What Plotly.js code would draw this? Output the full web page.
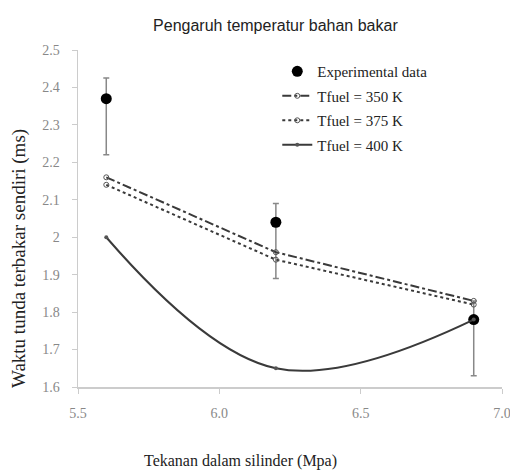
<!DOCTYPE html>
<html><head><meta charset="utf-8">
<script src="https://cdn.plot.ly/plotly-3.0.1.min.js"></script>
<style>body{margin:0;background:#fff}#c{width:510px;height:472px}</style>
</head><body><div id="c"></div>
<script>
var pressure = [5.6, 6.2, 6.9];
var expData = [2.37, 2.04, 1.78];
var expErrPlus = [0.055, 0.05, 0.05];
var expErrMinus = [0.15, 0.15, 0.15];
var t350 = [2.16, 1.96, 1.83];
var t375 = [2.14, 1.94, 1.82];
var t400 = [2.0, 1.65, 1.78];
var xTicks = [5.5, 6.0, 6.5, 7.0];
var yTicks = [1.6, 1.7, 1.8, 1.9, 2, 2.1, 2.2, 2.3, 2.4, 2.5];
var titleText = 'Pengaruh temperatur bahan bakar';
var xTitle = 'Tekanan dalam silinder (Mpa)';
var yTitle = 'Waktu tunda terbakar sendiri (ms)';

var serif = "Liberation Serif, Times New Roman, serif";
var traces = [
  {x: pressure, y: expData, mode: 'markers', name: 'Experimental data', legendgroup: 'a',
   marker: {color: '#000', size: 11},
   error_y: {type: 'data', symmetric: false, array: expErrPlus, arrayminus: expErrMinus,
             color: '#888', thickness: 1.5, width: 3}},
  {x: pressure, y: t350, mode: 'lines+markers', name: 'Tfuel = 350 K', legendgroup: 'b',
   line: {color: '#3a3a3a', width: 2, dash: 'dashdot'},
   marker: {color: '#555', size: 5, symbol: 'circle-open'}},
  {x: pressure, y: t375, mode: 'lines+markers', name: 'Tfuel = 375 K', legendgroup: 'c',
   line: {color: '#3a3a3a', width: 2, dash: 'dot'},
   marker: {color: '#555', size: 5, symbol: 'circle-open'}},
  {x: pressure, y: t400, mode: 'lines+markers', name: 'Tfuel = 400 K', legendgroup: 'd',
   line: {color: '#3a3a3a', width: 2, shape: 'spline', smoothing: 1.1},
   marker: {color: '#555', size: 4, symbol: 'circle'}}
];
var layout = {
  width: 510, height: 472,
  margin: {l: 78, r: 8, t: 50, b: 85},
  paper_bgcolor: '#fff', plot_bgcolor: '#fff',
  title: {text: titleText, x: 0.54, xanchor: 'center', y: 0.958,
          font: {family: 'Liberation Sans, Arial, sans-serif', size: 16, color: '#222'}},
  xaxis: {range: [5.5, 7.0], tickvals: xTicks, ticktext: xTicks.map(function(v){return v.toFixed(1);}),
          showgrid: false, zeroline: false, showline: true, linecolor: '#ccc', linewidth: 1.5,
          ticks: 'outside', ticklen: 5, tickcolor: '#ccc', ticklabelstandoff: 8,
          ticklabeloverflow: 'allow',
          tickfont: {family: serif, size: 14, color: '#888'}},
  yaxis: {range: [1.6, 2.5], tickvals: yTicks, ticktext: yTicks.map(function(v){return String(v);}),
          showgrid: false, zeroline: false, showline: true, linecolor: '#ccc', linewidth: 1.5,
          ticks: 'outside', ticklen: 5, tickcolor: '#ccc', ticklabelstandoff: 9,
          tickfont: {family: serif, size: 14, color: '#888'}},
  annotations: [
    {text: xTitle, xref: 'paper', yref: 'paper', x: (240 - 78) / 424, y: (387 - 461) / 337,
     xanchor: 'center', yanchor: 'middle', showarrow: false,
     font: {family: serif, size: 16, color: '#222'}},
    {text: yTitle, xref: 'paper', yref: 'paper', x: (19 - 78) / 424, y: (387 - 259) / 337,
     xanchor: 'center', yanchor: 'middle', showarrow: false, textangle: -90,
     font: {family: serif, size: 19, color: '#222'}}
  ],
  legend: {x: 0.47, y: 0.985, xanchor: 'left', yanchor: 'top', traceorder: 'grouped',
           tracegroupgap: 2, bgcolor: 'rgba(0,0,0,0)',
           font: {family: serif, size: 15, color: '#222'}},
  showlegend: true
};
Plotly.newPlot('c', traces, layout, {displayModeBar: false, staticPlot: true});
</script></body></html>
